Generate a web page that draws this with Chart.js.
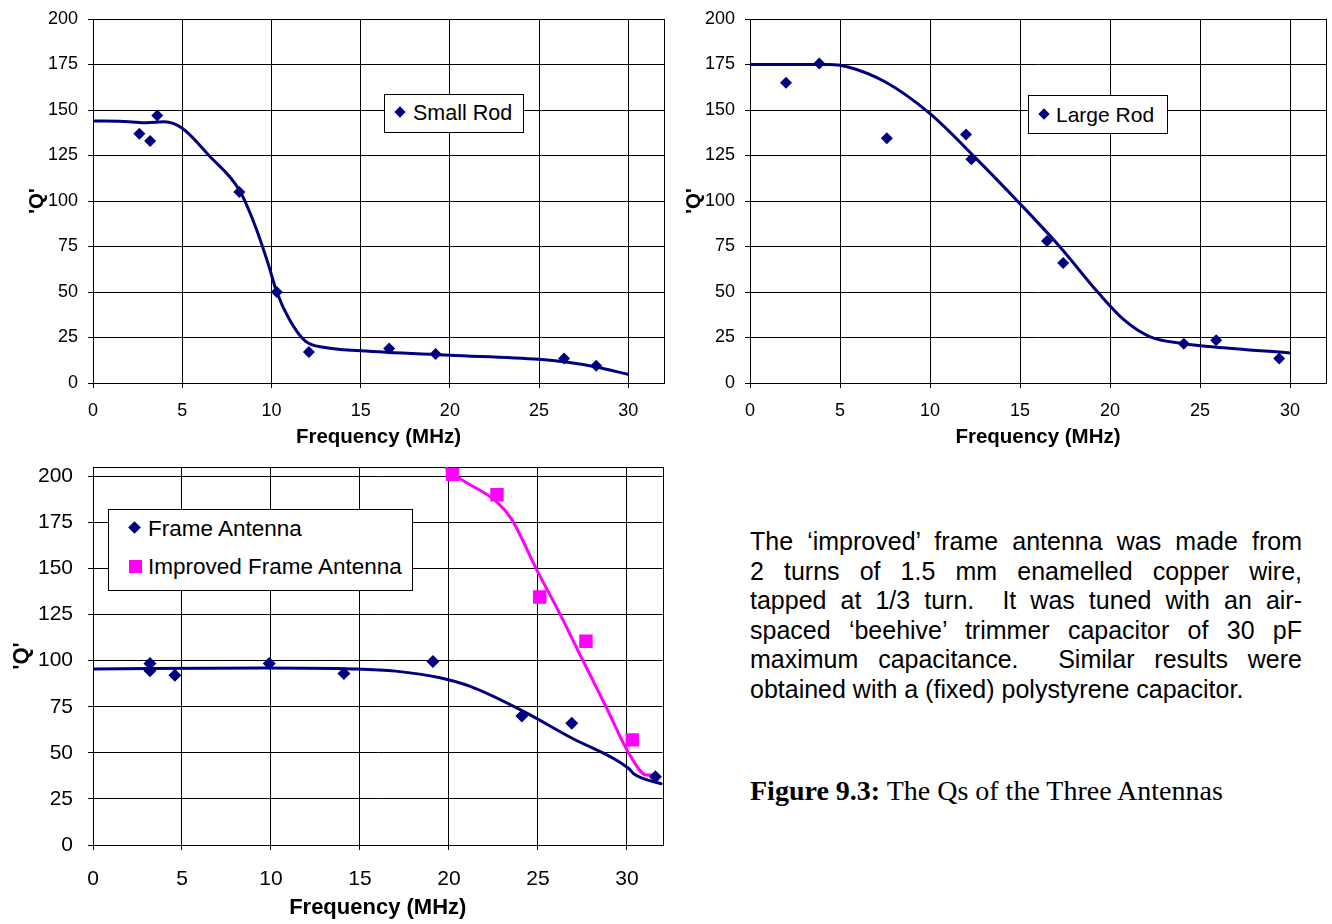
<!DOCTYPE html>
<html>
<head>
<meta charset="utf-8">
<script src="https://cdn.jsdelivr.net/npm/chart.js@4.4.0/dist/chart.umd.min.js"></script>
<style>
    body { margin: 0; background: #fff; width: 1332px; height: 924px; position: relative; overflow: hidden;
           font-family: "Liberation Sans", Arial, sans-serif; color: #000; }
    .chart-box { position: absolute; }
    .legend { position: absolute; background: #fff; border: 1px solid #000; box-sizing: border-box; }
    .legend .row { position: absolute; white-space: nowrap; line-height: 1; }
    .mark { position: absolute; }
    .diamond { background: #000080; transform: rotate(45deg); }
    .square { background: #ff00ff; }
    #note { position: absolute; left: 750px; top: 527px; width: 552px; font-size: 25px; line-height: 29.6px; }
    #note div { text-align: justify; text-align-last: justify; white-space: nowrap; }
    #note div.last { text-align-last: left; }
    #caption { position: absolute; left: 750px; top: 777px; font-family: "Liberation Serif", "Times New Roman", serif;
               font-size: 28px; line-height: 28px; white-space: nowrap; }
</style>
</head>
<body>

<div class="chart-box" style="left:0;top:0;width:670px;height:450px"><canvas id="smallRodChart"></canvas></div>
<div class="chart-box" style="left:660px;top:0;width:672px;height:450px"><canvas id="largeRodChart"></canvas></div>
<div class="chart-box" style="left:0;top:450px;width:672px;height:474px"><canvas id="frameChart"></canvas></div>

<div class="legend" style="left:384px;top:94px;width:140px;height:39px;font-size:21.5px">
    <span class="mark diamond" style="left:11px;top:13px;width:8px;height:8px"></span>
    <div class="row" style="left:28px;top:8px">Small Rod</div>
</div>
<div class="legend" style="left:1028px;top:95px;width:140px;height:39px;font-size:21px">
    <span class="mark diamond" style="left:11px;top:14px;width:8px;height:8px"></span>
    <div class="row" style="left:27px;top:8px">Large Rod</div>
</div>
<div class="legend" style="left:108px;top:509px;width:305px;height:82px;font-size:22.5px">
    <span class="mark diamond" style="left:21px;top:13px;width:9px;height:9px"></span>
    <div class="row" style="left:39px;top:8px">Frame Antenna</div>
    <span class="mark square" style="left:20px;top:50px;width:13px;height:13px"></span>
    <div class="row" style="left:39px;top:46px">Improved Frame Antenna</div>
</div>

<div id="note">
    <div>The ‘improved’ frame antenna was made from</div>
    <div>2 turns of 1.5&nbsp;mm enamelled copper wire,</div>
    <div>tapped at 1/3 turn.&nbsp; It was tuned with an air-</div>
    <div>spaced ‘beehive’ trimmer capacitor of 30&nbsp;pF</div>
    <div>maximum capacitance.&nbsp; Similar results were</div>
    <div class="last">obtained with a (fixed) polystyrene capacitor.</div>
</div>
<div id="caption"><b>Figure 9.3:</b> The Qs of the Three Antennas</div>

<script>
// Small rod measurements and fitted curve
const smallRodFreq = [2.6, 3.2, 3.6, 8.2, 10.3, 12.1, 16.6, 19.2, 26.4, 28.2];
const smallRodQ = [137, 133, 147, 105, 50, 17, 19, 16, 13.5, 9.5];
const smallRodFitFreq = [0, 2, 3, 4, 5, 6.5, 8.2, 9.1, 9.8, 10.3, 11, 11.9, 13, 15, 20, 25, 26.5, 28.2, 30];
const smallRodFitQ = [144, 143.6, 143, 143.5, 140, 125, 106, 86, 66, 50, 35, 23, 19.5, 17.7, 15.3, 13, 11.5, 8.8, 4.7];

// Large rod
const largeRodFreq = [2.0, 3.85, 7.6, 12.0, 12.3, 16.5, 17.4, 24.1, 25.9, 29.4];
const largeRodQ = [165, 175.5, 134.5, 136.5, 123, 78, 66, 21.5, 23.5, 13.5];
const largeRodFitFreq = [0, 4.4, 5.4, 7.5, 10, 12.5, 15, 17.2, 19.4, 20.8, 22.2, 24.1, 25.8, 30];
const largeRodFitQ = [175, 175, 173.8, 165.5, 148, 124, 98.5, 75, 49, 34.5, 25.5, 21.6, 19.8, 16.5];

// Frame antenna and improved frame antenna
const frameFreq = [3.2, 3.2, 4.6, 9.9, 14.1, 19.1, 24.1, 26.9, 31.6];
const frameQ = [98.5, 94.5, 92, 98.5, 93, 99.5, 70, 66, 37];
const frameFitFreq = [0, 9.6, 14.6, 17, 19.5, 21.2, 24, 26.9, 30.1, 30.4, 32];
const frameFitQ = [95.5, 96, 95.5, 94.3, 90.7, 86, 73.4, 58, 41.5, 38.5, 33];
const improvedFreq = [20.2, 22.7, 25.1, 27.7, 30.3];
const improvedQ = [201, 190, 134.5, 110.5, 57];
const improvedFitFreq = [19.8, 20.5, 22.7, 23.5, 25, 26.2, 27.4, 28.9, 30.15, 31.1, 31.8];
const improvedFitQ = [205, 199.5, 186, 177, 148, 126, 102.5, 73.5, 49, 38, 38];

const xTicks = [0, 5, 10, 15, 20, 25, 30];
const yTicks = [0, 25, 50, 75, 100, 125, 150, 175, 200];

const NAVY = '#000080';
const MAGENTA = '#ff00ff';

function toPoints(xs, ys) {
    return xs.map((x, i) => ({ x: x, y: ys[i] }));
}

// draws the box round the plot area, like Excel does
const plotBorder = {
    id: 'plotBorder',
    beforeDatasetsDraw(chart) {
        const a = chart.chartArea;
        const ctx = chart.ctx;
        ctx.save();
        ctx.strokeStyle = '#000';
        ctx.lineWidth = 1;
        ctx.strokeRect(Math.round(a.left) + 0.5, Math.round(a.top) + 0.5,
            Math.round(a.right - a.left), Math.round(a.bottom - a.top));
        ctx.restore();
    }
};

function markerSet(xs, ys, color, style, radius) {
    return {
        data: toPoints(xs, ys),
        pointStyle: style,
        pointRadius: radius,
        pointBackgroundColor: color,
        pointBorderColor: color,
        pointBorderWidth: 0,
        showLine: false
    };
}

function fitSet(xs, ys, color) {
    return {
        data: toPoints(xs, ys),
        showLine: true,
        borderColor: color,
        borderWidth: 3,
        pointRadius: 0,
        cubicInterpolationMode: 'monotone'
    };
}

function buildChart(id, datasets, g) {
    const ctx = document.getElementById(id).getContext('2d');
    return new Chart(ctx, {
        type: 'scatter',
        data: { datasets: datasets },
        plugins: [plotBorder],
        options: {
            responsive: true,
            maintainAspectRatio: false,
            animation: false,
            events: [],
            layout: { padding: { left: g.padLeft, top: g.padTop, right: g.padRight, bottom: g.padBottom } },
            plugins: { legend: { display: false }, tooltip: { enabled: false } },
            scales: {
                x: {
                    type: 'linear',
                    min: 0,
                    max: 32,
                    afterBuildTicks: s => { s.ticks = xTicks.map(v => ({ value: v })); },
                    // fixed size, and no extra room for label overhang
                    afterFit: s => { s.height = g.xHeight; s.paddingLeft = 0; s.paddingRight = 0; },
                    ticks: { color: '#000', padding: g.xTickPad, maxRotation: 0,
                             font: { family: 'Liberation Sans', size: g.tickSize } },
                    grid: { color: '#000', lineWidth: 1, tickLength: 5 },
                    border: { color: '#000' },
                    title: {
                        display: true,
                        text: 'Frequency (MHz)',
                        color: '#000',
                        padding: { top: 0, bottom: 0 },
                        font: { family: 'Liberation Sans', size: g.titleSize, weight: 'bold' }
                    }
                },
                y: {
                    min: 0,
                    max: g.yMax,
                    afterBuildTicks: s => { s.ticks = yTicks.map(v => ({ value: v })); },
                    afterFit: s => { s.width = g.yWidth; s.paddingTop = 0; s.paddingBottom = 0; },
                    ticks: { color: '#000', padding: g.yTickPad, font: { family: 'Liberation Sans', size: g.tickSize } },
                    grid: { color: '#000', lineWidth: 1, tickLength: 5 },
                    border: { color: '#000' },
                    title: {
                        display: true,
                        text: "'Q'",
                        color: '#000',
                        padding: { top: 0, bottom: 0 },
                        font: { family: 'Liberation Sans', size: g.titleSize, weight: 'bold' }
                    }
                }
            }
        }
    });
}

document.addEventListener('DOMContentLoaded', function() {
    // Small Rod
    buildChart('smallRodChart', [
        markerSet(smallRodFreq, smallRodQ, NAVY, 'rectRot', 6),
        fitSet(smallRodFitFreq, smallRodFitQ, NAVY)
    ], { padLeft: 25, padTop: 19, padRight: 4, padBottom: 0, yWidth: 68, xHeight: 67, yMax: 200,
         tickSize: 18, titleSize: 20.5, xTickPad: 12, yTickPad: 10 });

    // Large Rod
    buildChart('largeRodChart', [
        markerSet(largeRodFreq, largeRodQ, NAVY, 'rectRot', 6),
        fitSet(largeRodFitFreq, largeRodFitQ, NAVY)
    ], { padLeft: 22, padTop: 19, padRight: 5, padBottom: 0, yWidth: 68, xHeight: 67, yMax: 200,
         tickSize: 18, titleSize: 20.5, xTickPad: 12, yTickPad: 10 });

    // Frame Antenna + Improved Frame Antenna
    buildChart('frameChart', [
        markerSet(frameFreq, frameQ, NAVY, 'rectRot', 6.5),
        markerSet(improvedFreq, improvedQ, MAGENTA, 'rect', 9.5),
        fitSet(improvedFitFreq, improvedFitQ, MAGENTA),
        fitSet(frameFitFreq, frameFitQ, NAVY)
    ], { padLeft: 9, padTop: 17, padRight: 4, padBottom: 3, yWidth: 84, xHeight: 76, yMax: 205,
         tickSize: 21, titleSize: 22, xTickPad: 17, yTickPad: 15 });
});
</script>
</body>
</html>
